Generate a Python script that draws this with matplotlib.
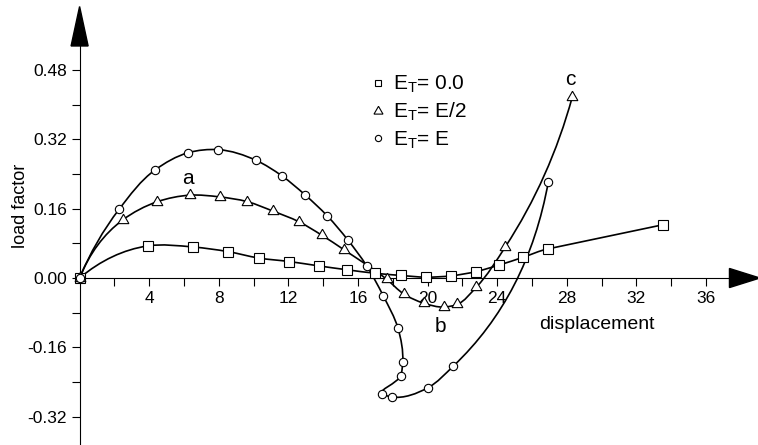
import matplotlib
matplotlib.use("Agg")
import matplotlib.pyplot as plt
import numpy as np
from matplotlib.path import Path
from matplotlib.patches import PathPatch, Polygon
from matplotlib.lines import Line2D
from matplotlib.ticker import FormatStrFormatter

plt.rcParams['font.family'] = ['Liberation Sans', 'DejaVu Sans']
plt.rcParams['mathtext.fontset'] = 'custom'
plt.rcParams['mathtext.rm'] = 'Liberation Sans'
plt.rcParams['mathtext.it'] = 'Liberation Sans:italic'
plt.rcParams['axes.unicode_minus'] = False

# E_T = 0.0
disp_sq = [0, 3.91, 6.53, 8.51, 10.31, 12.05, 13.74, 15.37, 16.98, 18.45,
           19.91, 21.34, 22.80, 24.12, 25.50, 26.90, 33.55]
load_sq = [0, 0.074, 0.0715, 0.061, 0.046, 0.038, 0.028, 0.019, 0.011, 0.006,
           0.002, 0.005, 0.015, 0.030, 0.048, 0.067, 0.123]

# E_T = E/2
disp_tri = [0, 2.48, 4.47, 6.34, 8.05, 9.64, 11.13, 12.59, 13.91, 15.20,
            17.65, 18.64, 19.78, 20.94, 21.69, 22.80, 24.47, 28.32]
load_tri = [0, 0.134, 0.176, 0.191, 0.187, 0.176, 0.154, 0.130, 0.099, 0.065,
            -0.003, -0.037, -0.058, -0.067, -0.061, -0.021, 0.072, 0.418]

# E_T = E
disp_cir = [0, 2.28, 4.33, 6.25, 7.97, 10.16, 11.61, 12.95, 14.24, 15.41,
            16.50, 17.45, 18.30, 18.57, 18.45, 17.36, 17.94, 20.02, 21.48, 26.94]
load_cir = [0, 0.159, 0.249, 0.289, 0.296, 0.271, 0.236, 0.192, 0.143, 0.088,
            0.028, -0.041, -0.116, -0.193, -0.225, -0.267, -0.274, -0.253, -0.203, 0.222]

legend_labels = [r'E$_\mathrm{T}$= 0.0', r'E$_\mathrm{T}$= E/2', r'E$_\mathrm{T}$= E']


def smooth_line(ax, xs, ys, straight_end=False, **kw):
    # bezier through the points, tangents from chord lengths in pixel space
    pts = ax.transData.transform(np.column_stack([xs, ys]))
    d = np.diff(pts, axis=0)
    h = np.hypot(d[:, 0], d[:, 1])
    s = d / h[:, None]
    n = len(pts)
    m = np.zeros_like(pts)
    for i in range(1, n - 1):
        m[i] = (h[i] * s[i - 1] + h[i - 1] * s[i]) / (h[i - 1] + h[i])
    m[0] = 2 * s[0] - m[1]
    if straight_end:
        m[-2] = s[-1]
        m[-1] = s[-1]
    else:
        m[-1] = 2 * s[-1] - m[-2]
    verts = [pts[0]]
    for i in range(n - 1):
        verts += [pts[i] + m[i] * h[i] / 3, pts[i + 1] - m[i + 1] * h[i] / 3, pts[i + 1]]
    verts = ax.transData.inverted().transform(np.array(verts))
    codes = [Path.MOVETO] + [Path.CURVE4] * (3 * (n - 1))
    ax.add_patch(PathPatch(Path(verts, codes), fill=False, **kw))


fig = plt.figure(figsize=(7.58, 4.45), dpi=100)
ax = fig.add_axes([0, 0, 1, 1])
ax.set_xlim(-4.575, 38.99)
ax.set_ylim(-0.385, 0.641)

for sp in ['top', 'right']:
    ax.spines[sp].set_visible(False)
ax.spines['left'].set_position(('data', 0))
ax.spines['bottom'].set_position(('data', 0))
ax.spines['left'].set_bounds(-0.385, 0.55)
ax.spines['bottom'].set_bounds(0, 37.5)
for sp in ['left', 'bottom']:
    ax.spines[sp].set_linewidth(0.8)

ax.set_xticks(np.arange(4, 37, 4))
ax.set_xticks(np.arange(2, 35, 4), minor=True)
ax.set_yticks(np.arange(-0.32, 0.49, 0.16))
ax.set_yticks(np.arange(-0.24, 0.41, 0.16), minor=True)
ax.yaxis.set_major_formatter(FormatStrFormatter('%.2f'))
ax.tick_params(which='both', direction='out', length=6, width=0.8, labelsize=12.5, pad=3)

# axis arrows
ax.add_patch(Polygon([[-0.49, 0.535], [0.49, 0.535], [0, 0.626]], closed=True,
                     color='black', clip_on=False))
ax.add_patch(Polygon([[37.35, -0.022], [37.35, 0.022], [39.1, 0]], closed=True,
                     color='black', clip_on=False))

series = [(disp_sq, load_sq, 's', 6.5, True), (disp_tri, load_tri, (3, 0, 0), 9, False),
          (disp_cir, load_cir, 'o', 6, False)]
for xs, ys, mk, ms, straight in series:
    smooth_line(ax, xs, ys, straight_end=straight, lw=1.2, edgecolor='black', zorder=2)
    ax.plot(xs, ys, ls='none', marker=mk, ms=ms, mfc='white', mec='black',
            mew=0.8, zorder=3, clip_on=False)

handles = [Line2D([], [], ls='none', marker='s', ms=5, mfc='white', mec='black', mew=0.8),
           Line2D([], [], ls='none', marker=(3, 0, 0), ms=7.5, mfc='white', mec='black', mew=0.8),
           Line2D([], [], ls='none', marker='o', ms=4.5, mfc='white', mec='black', mew=0.8)]
ax.legend(handles, legend_labels, loc='upper left', frameon=False, fontsize=15,
          borderpad=0, borderaxespad=0, handlelength=0.8, handletextpad=0.32,
          labelspacing=0.28, bbox_to_anchor=(370 / 758, 1 - 74 / 445),
          bbox_transform=fig.transFigure)

ax.text(6.25, 0.230, 'a', fontsize=15, ha='center', va='center')
ax.text(20.75, -0.112, 'b', fontsize=15, ha='center', va='center')
ax.text(28.22, 0.458, 'c', fontsize=15, ha='center', va='center')

ax.set_xlabel('displacement', fontsize=14)
ax.xaxis.set_label_coords(29.72, -0.107, transform=ax.transData)
ax.xaxis.label.set_va('center')
ax.set_ylabel('load factor', fontsize=13)
ax.yaxis.set_label_coords(-3.4, 0.166, transform=ax.transData)
ax.yaxis.label.set_va('center')

fig.savefig('out.png', dpi=100)
